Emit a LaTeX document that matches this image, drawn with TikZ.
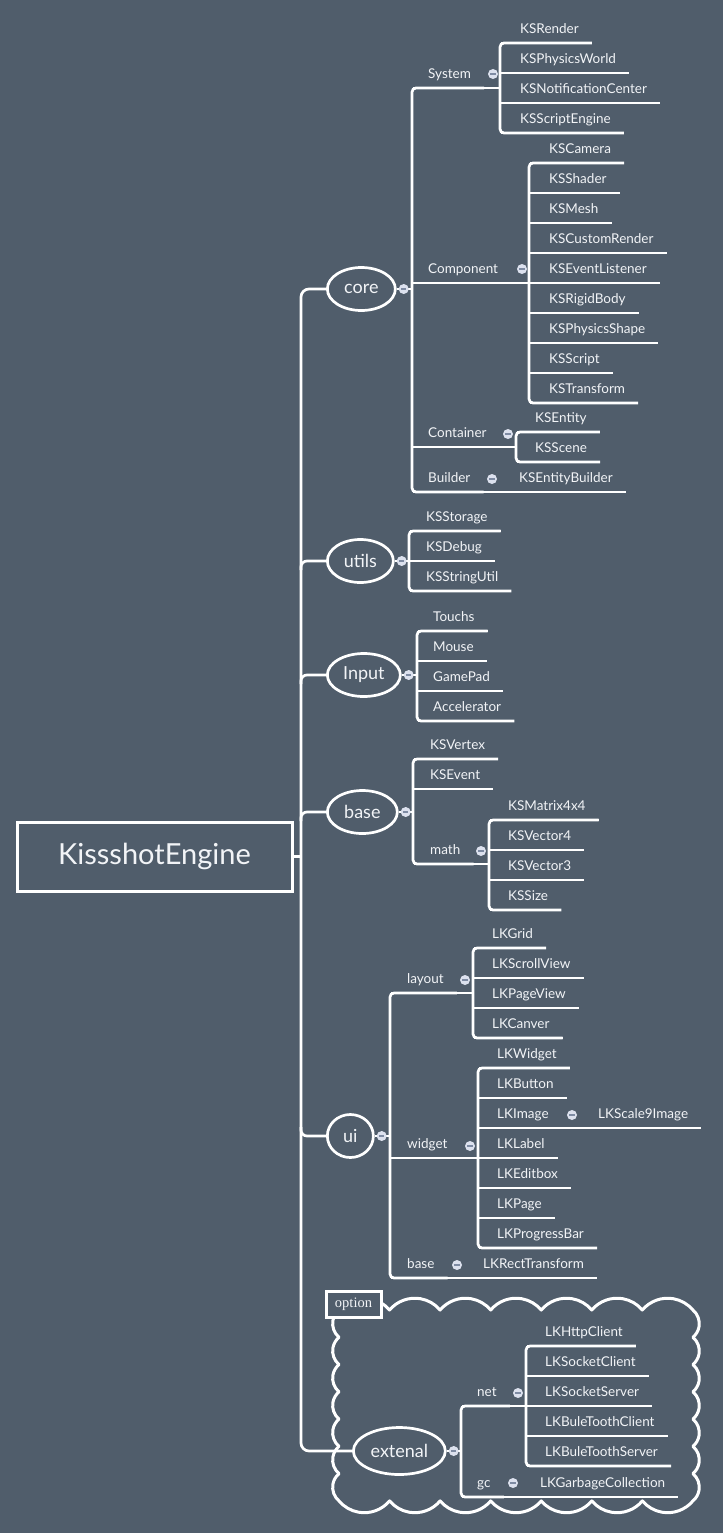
\documentclass[tikz,border=0pt]{standalone}
\usepackage{fontspec}
\usetikzlibrary{shapes.geometric,positioning}
\newfontfamily\mapfont{Lato}
\newfontfamily\tagfont{Liberation Serif}
\definecolor{slate}{HTML}{505D6B}
\definecolor{ink}{HTML}{F2F4F7}
\definecolor{foldfill}{HTML}{DCE1EE}
\definecolor{foldbar}{HTML}{7E8BA3}

\begin{document}
\begin{tikzpicture}[
                 x = 1pt,
                 y = -1pt,
   branch/.style = {draw=white, line width=2.7pt},
     root/.style = {draw=white, line width=3pt, fill=slate, text=ink,
                    minimum width=275pt, minimum height=69pt,
                    font=\mapfont\fontsize{29}{34}\selectfont},
    topic/.style = {ellipse, anchor=west, draw=white, line width=2.7pt, fill=slate,
                    text=ink, inner sep=0pt, minimum height=43pt,
                    font=\mapfont\fontsize{18}{22}\selectfont},
     leaf/.style = {anchor=south west, xshift=-13pt, inner xsep=13pt, inner ysep=0pt,
                    text depth=9.5pt, text=ink,
                    font=\mapfont\fontsize{13.5}{16}\selectfont},
     fold/.style = {circle, fill=foldfill, inner sep=0pt, minimum size=10pt,
                    path picture={\draw[foldbar, line width=1.5pt]
                      ([xshift=-2.6pt]path picture bounding box.center) --
                      ([xshift=2.6pt]path picture bounding box.center);}},
    cloud/.style = {draw=white, line width=3pt, line join=round},
      tag/.style = {draw=white, line width=3pt, fill=slate, text=ink,
                    minimum width=55pt, minimum height=26pt, inner sep=0pt,
                    font=\tagfont\fontsize{14.5}{16}\selectfont},
                    ]
\fill[slate] (0,0) rectangle (723,1533);
\useasboundingbox (0,0) rectangle (723,1533);

% optional part
\draw[cloud] (339,1310)
    \foreach \i in {1,...,7} {arc[start angle=220, end angle=320, radius=33]}
    \foreach \i in {1,...,7} {arc[start angle=-50, end angle=50, radius=17.8]}
    \foreach \i in {1,...,7} {arc[start angle=40, end angle=140, radius=33]}
    \foreach \i in {1,...,7} {arc[start angle=130, end angle=230, radius=17.8]}
    -- cycle;
\node[tag] (option) at (353.5,1304) {option};

% root and main topics
\node[root] (root) at (154.5,856.5) {KissshotEngine};
\coordinate (spine) at (301,856.5);
\node[topic, minimum width=68pt] (core)  at (326,289)  {core};
\node[topic, minimum width=66pt] (utils) at (326,561)  {utils};
\node[topic, minimum width=73pt] (input) at (326,675)  {Input};
\node[topic, minimum width=70pt] (base)  at (326,812)  {base};
\node[topic, minimum width=46pt] (ui)    at (326,1136) {ui};
\node[topic, minimum width=92pt, minimum height=47pt] (ext) at (352,1451) {extenal};

\draw[branch] (root.east) -- (spine);
\draw[branch, rounded corners=8pt] (core.west) -- (core.west -| spine)
    -- (ext.west -| spine) -- (ext.west);
\foreach \m/\s in {utils/9, input/9, base/9, ui/-9}
    \draw[branch, rounded corners=6pt] (spine |- \m.west) ++(0,\s)
        -- (spine |- \m.west) -- (\m.west);

% brackets
\coordinate (core-b)      at (412,289);
\coordinate (utils-b)     at (409,561);
\coordinate (input-b)     at (417,675);
\coordinate (base-b)      at (413,812);
\coordinate (ui-b)        at (390,1136);
\coordinate (ext-b)       at (461,1451);
\coordinate (system-b)    at (500,88);
\coordinate (component-b) at (529,283);
\coordinate (container-b) at (516,447);
\coordinate (math-b)      at (489,864);
\coordinate (layout-b)    at (473,993);
\coordinate (widget-b)    at (478,1158);
\coordinate (net-b)       at (526,1406);

% sub topics
\node[leaf] (system)    at (428,88)   {System};
\node[leaf] (component) at (428,283)  {Component};
\node[leaf] (container) at (428,447)  {Container};
\node[leaf] (builder)   at (428,492)  {Builder};
\node[leaf] (math)      at (430,864)  {math};
\node[leaf] (layout)    at (407,993)  {layout};
\node[leaf] (widget)    at (407,1158) {widget};
\node[leaf] (uibase)    at (407,1278) {base};
\node[leaf] (net)       at (477,1406) {net};
\node[leaf] (gc)        at (477,1497) {gc};

\foreach \m in {core,utils,input,base,ui,ext}
    \draw[branch] (\m.east) -- (\m-b);
\foreach \p/\g in {core/system, core/component, core/container, base/math,
                   ui/layout, ui/widget, ext/net}
    \draw[branch, shorten <=1.3pt] (\p-b |- \g.south) -- (\g-b);

% leaves
\foreach \g/\x/\y/\items in {
    system/520/43/{KSRender,KSPhysicsWorld,KSNotificationCenter,KSScriptEngine},
    component/549/163/{KSCamera,KSShader,KSMesh,KSCustomRender,KSEventListener,
                       KSRigidBody,KSPhysicsShape,KSScript,KSTransform},
    container/535/432/{KSEntity,KSScene},
    utils/426/531/{KSStorage,KSDebug,KSStringUtil},
    input/433/631/{Touchs,Mouse,GamePad,Accelerator},
    base/430/759/{KSVertex,KSEvent},
    math/508/820/{KSMatrix4x4,KSVector4,KSVector3,KSSize},
    layout/492/948/{LKGrid,LKScrollView,LKPageView,LKCanver},
    widget/497/1068/{LKWidget,LKButton,LKImage,LKLabel,LKEditbox,LKPage,LKProgressBar},
    net/545/1346/{LKHttpClient,LKSocketClient,LKSocketServer,LKBuleToothClient,
                  LKBuleToothServer}}
  \foreach \t [count=\i] in \items {
    \node[leaf] (\g-\i) at (\x,\y+30*\i-30) {\t};
    \draw[branch, shorten <=1.3pt] (\g-b |- \g-\i.south) -- (\g-\i.south east);
  }

% single children
\node[leaf] (entitybuilder) at (519,492)  {KSEntityBuilder};
\node[leaf] (scale9)        at (598,1128) {LKScale9Image};
\node[leaf] (recttrans)     at (483,1278) {LKRectTransform};
\node[leaf] (garbage)       at (540,1497) {LKGarbageCollection};
\draw[branch, shorten <=1.3pt] (core-b |- builder.south) -- (entitybuilder.south east);
\draw[branch, shorten <=1.3pt] (widget-b |- widget-3.south) -- (scale9.south east);
\draw[branch, shorten <=1.3pt] (ui-b |- uibase.south) -- (recttrans.south east);
\draw[branch, shorten <=1.3pt] (ext-b |- gc.south) -- (garbage.south east);

\foreach \g/\a/\z in {core/system/builder, system/system-1/system-4,
                      component/component-1/component-9, container/container-1/container-2,
                      utils/utils-1/utils-3, input/input-1/input-4, base/base-1/math,
                      math/math-1/math-4, ui/layout/uibase, layout/layout-1/layout-4,
                      widget/widget-1/widget-7, ext/net/gc, net/net-1/net-5}
    \draw[branch, rounded corners=4pt] (\a.south east) -- (\g-b |- \a.south)
        -- (\g-b |- \z.south) -- (\z.south east);

% fold marks
\foreach \m in {core,utils,input,base,ui,ext}
    \node[fold] (\m-f) at ([xshift=7pt]\m.east) {};
\foreach \g/\x/\y in {system/493/74, component/522/269, container/508/434,
                      builder/492/479, math/481/851, layout/465/980, widget/470/1146,
                      widget-3/572/1115, uibase/457/1265, net/518/1393, gc/513/1483}
    \node[fold] (\g-f) at (\x,\y) {};
\end{tikzpicture}
\end{document}
